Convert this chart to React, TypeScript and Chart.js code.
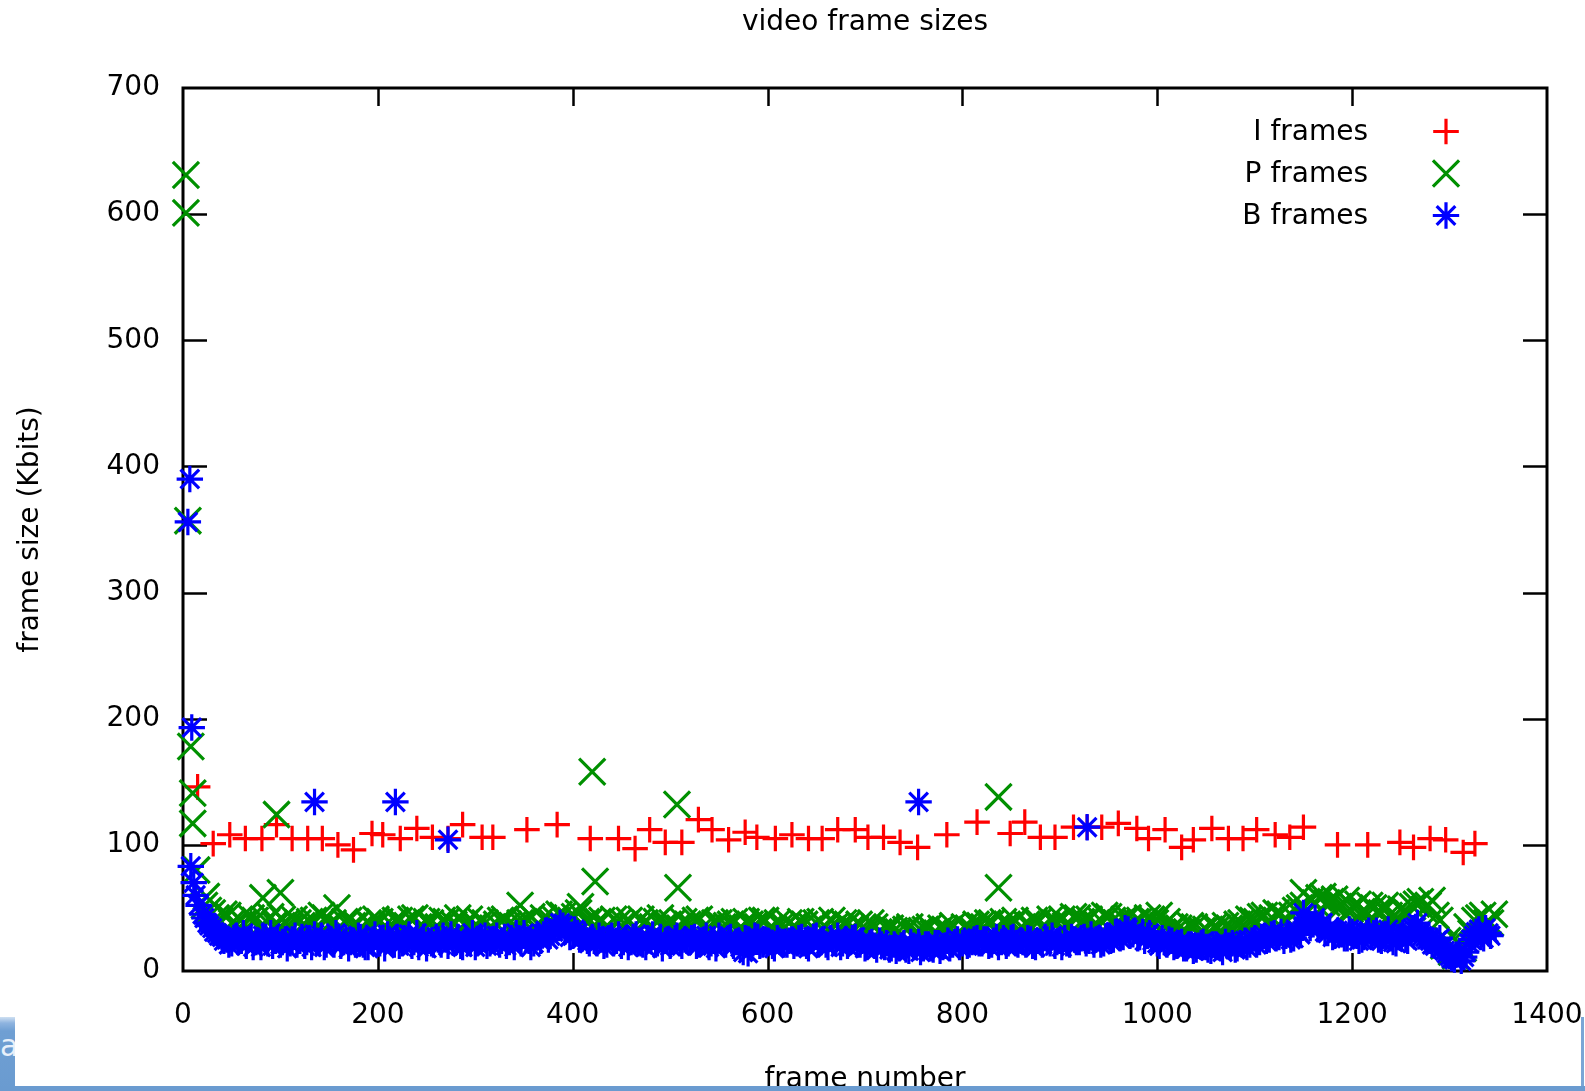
import React, { useEffect, useRef } from 'react';
import { Chart, registerables } from 'chart.js';

Chart.register(...registerables);

const FONT = '"DejaVu Sans", "Liberation Sans", Arial, sans-serif';
const FS = 28;

const chartTitle = 'video frame sizes';
const xAxisTitle = 'frame number';
const yAxisTitle = 'frame size (Kbits)';
const seriesNames = ['I frames', 'P frames', 'B frames'];
const seriesColors = ['#ff0000', '#009000', '#0000ff'];

const xMin = 0;
const xMax = 1400;
const xStep = 200;
const yMin = 0;
const yMax = 700;
const yStep = 100;

// I frames: frame number / size (Kbits)
const iFrameX = [15, 31, 48, 64, 81, 96, 112, 128, 143, 159, 175, 194, 205, 223, 240, 256, 272, 287, 307, 318,
  353, 384, 418, 447, 464, 479, 495, 512, 529, 543, 560, 577, 589, 608, 625, 642, 656, 672, 690, 703,
  719, 736, 754, 784, 815, 849, 864, 880, 895, 914, 928, 943, 960, 979, 991, 1008, 1025, 1037, 1056, 1073, 1088,
  1102, 1121, 1136, 1150, 1185, 1216, 1249, 1263, 1280, 1296, 1314, 1326];
const iFrameY = [146, 101, 108, 105, 105, 116, 105, 105, 105, 100, 96, 109, 108, 105, 113, 106, 105, 116, 106, 106,
  112, 116, 105, 105, 97, 112, 102, 102, 120, 112, 104, 110, 106, 105, 108, 105, 105, 112, 112, 106,
  106, 102, 98, 108, 118, 109, 118, 106, 106, 114, 114, 114, 117, 113, 105, 112, 98, 104, 113, 105, 105,
  112, 108, 106, 114, 100, 100, 102, 98, 105, 104, 94, 101];

// P frames: regular runs (frame = start + i * step)
const pFrameStep = 8;
const pFrameStartA = 22;
const pFrameYA = [
  52, 46, 40, 44, 36, 38, 42, 34, 39, 37, 41, 35, 38, 36, 40, 44, 37, 33, 39, 36, 34, 38, 41, 35, 37,
  40, 36, 42, 34, 38, 35, 39, 37, 33, 41, 36, 38, 34, 40, 37, 35, 39, 43, 36, 38, 41, 44, 40, 46, 39,
  36, 40, 34, 38, 37, 35, 41, 33, 39, 36, 38, 34, 37, 40, 35, 33, 38, 36, 39, 34, 37, 35, 40, 33, 36,
  38, 34, 37, 35, 39, 33, 36, 38, 34, 37, 32, 35, 30, 34, 31, 33, 29, 32, 35, 30, 33, 36, 31, 34, 37,
  35, 38, 33, 37, 40, 34, 36, 39, 35, 38, 41, 37, 42, 39, 36, 40, 43, 38, 41, 37, 40, 42, 38, 36, 33,
  34, 31, 35, 32, 30, 34, 36, 33, 38, 41, 39, 44, 42, 45, 40, 48, 52, 56, 58, 54, 57, 52, 49, 53, 47,
  50, 46, 44, 42, 48, 51, 55, 52, 44, 20, 15, 22, 35, 40, 44, 38,
];
const pFrameStartB = 26;
const pFrameYB = [
  48, 42, 45, 38, 41, 35, 40, 37, 43, 34, 38, 41, 36, 39, 33, 42, 38, 35, 40, 37, 32, 36, 39, 34, 40,
  37, 41, 35, 39, 33, 40, 36, 42, 38, 35, 39, 34, 37, 41, 36, 38, 40, 35, 42, 39, 45, 41, 43, 37, 40,
  39, 35, 41, 36, 40, 33, 38, 35, 42, 37, 34, 39, 36, 41, 34, 38, 35, 37, 33, 39, 36, 40, 34, 38, 35,
  35, 39, 33, 38, 36, 40, 34, 37, 33, 35, 38, 31, 34, 32, 29, 35, 31, 33, 30, 34, 32, 29, 35, 33, 36,
  38, 34, 39, 36, 33, 37, 40, 35, 41, 38, 36, 43, 39, 41, 37, 44, 40, 38, 42, 39, 36, 41, 44, 39, 35,
  32, 36, 29, 33, 35, 31, 34, 37, 35, 40, 43, 38, 46, 41, 44, 50, 47, 54, 59, 55, 51, 56, 50, 47, 52,
  47, 52, 43, 49, 45, 53, 49, 56, 40, 24, 12, 18, 30, 42, 38, 45,
];
// P frames: individual large frames
const pExtraX = [3, 3, 5, 8, 10, 10, 14, 24, 82, 96, 100, 158, 346, 408, 420, 423, 507, 508, 837, 837, 1150];
const pExtraY = [631, 601, 357, 178, 141, 117, 80, 59, 58, 124, 62, 50, 52, 51, 158, 71, 132, 66, 138, 66, 62];

// B frames: regular runs (frame = start + i * step)
const bFrameStep = 5;
const bFrameStartA = 20;
const bFrameYA = [
  45, 38, 34, 30, 27, 25, 22, 28, 24, 20, 26, 23, 19, 27, 30, 24, 21, 25, 22, 28,
  24, 20, 26, 29, 22, 19, 25, 21, 27, 23, 18, 24, 28, 21, 19, 25, 22, 26, 29, 23,
  27, 22, 25, 20, 30, 24, 18, 22, 27, 21, 25, 29, 23, 20, 26, 22, 19, 24, 28, 22,
  25, 21, 27, 23, 19, 26, 30, 24, 22, 27, 29, 25, 31, 34, 36, 33, 28, 30, 26, 24,
  27, 22, 25, 21, 28, 24, 20, 26, 23, 29, 22, 19, 25, 21, 27, 24, 20, 26, 22, 25,
  23, 27, 21, 25, 19, 24, 28, 22, 26, 20, 23, 15, 25, 22, 27, 21, 24, 20, 26, 23,
  21, 25, 22, 27, 20, 24, 28, 23, 21, 26, 22, 19, 25, 23, 27, 21, 18, 22, 20, 24,
  19, 17, 21, 18, 22, 16, 20, 23, 18, 21, 17, 22, 19, 24, 21, 25, 22, 20, 23, 26,
  22, 25, 21, 27, 23, 20, 26, 22, 24, 21, 25, 19, 23, 27, 22, 20, 24, 26, 21, 25,
  23, 27, 24, 21, 26, 22, 28, 25, 30, 27, 33, 29, 26, 31, 28, 24, 22, 26, 21, 24,
  20, 23, 18, 21, 17, 22, 19, 16, 21, 18, 23, 20, 17, 22, 24, 21, 26, 23, 28, 25,
  30, 27, 24, 29, 26, 31, 35, 40, 37, 33, 38, 30, 27, 32, 29, 26, 31, 28, 25, 30,
  27, 32, 24, 29, 26, 22, 28, 25, 31, 35, 30, 27, 24, 20, 26, 16, 12, 9, 14, 11,
  22, 28, 33, 26, 30,
];
const bFrameStartB = 22;
const bFrameYB = [
  42, 36, 31, 28, 24, 21, 26, 23, 30, 25, 19, 24, 28, 22, 20, 26, 23, 18, 25, 21,
  27, 23, 19, 24, 28, 21, 25, 30, 20, 26, 23, 21, 27, 19, 24, 29, 22, 18, 25, 21,
  20, 26, 29, 23, 19, 27, 24, 21, 25, 28, 20, 23, 27, 19, 24, 30, 22, 26, 20, 25,
  28, 24, 20, 26, 30, 22, 25, 19, 27, 24, 32, 28, 35, 38, 31, 27, 33, 25, 29, 22,
  24, 28, 20, 26, 22, 29, 23, 19, 27, 24, 21, 26, 29, 22, 18, 25, 23, 28, 20, 24,
  26, 20, 24, 28, 22, 18, 25, 21, 27, 23, 19, 26, 22, 28, 20, 25, 23, 18, 24, 21,
  24, 20, 26, 22, 18, 27, 21, 25, 19, 23, 28, 22, 20, 26, 21, 24, 19, 23, 17, 21,
  22, 18, 16, 20, 17, 23, 19, 15, 21, 18, 22, 16, 20, 18, 23, 19, 24, 21, 25, 22,
  25, 20, 24, 19, 26, 22, 27, 21, 23, 26, 20, 24, 21, 25, 28, 23, 19, 22, 27, 23,
  26, 22, 29, 25, 21, 27, 24, 31, 26, 34, 28, 32, 27, 24, 30, 26, 20, 23, 25, 19,
  22, 18, 21, 16, 20, 23, 17, 21, 19, 15, 20, 22, 18, 21, 19, 24, 21, 27, 24, 29,
  26, 31, 28, 25, 33, 29, 38, 34, 42, 36, 31, 35, 28, 30, 26, 33, 29, 24, 27, 32,
  30, 25, 28, 33, 23, 27, 30, 24, 34, 38, 28, 25, 21, 24, 18, 14, 10, 13, 8, 15,
  25, 31, 27, 34, 28,
];
// B frames: individual large frames
const bExtraX = [5, 7, 9, 8, 11, 13, 16, 135, 218, 272, 580, 755, 928, 1150];
const bExtraY = [356, 390, 193, 83, 70, 60, 52, 134, 134, 104, 14, 134, 114, 46];

function pairs(xs: number[], ys: number[]) {
  return ys.map((y, i) => ({ x: xs[i], y }));
}
function run(start: number, step: number, ys: number[]) {
  return ys.map((y, i) => ({ x: start + i * step, y }));
}

const markerStyles = ['cross', 'crossRot', 'star'];
const markerRadius = [12.8, 18.5, 13.2];
const markerWidth = 3.2;

function drawMarker(ctx: CanvasRenderingContext2D, style: string, x: number, y: number, r: number, color: string) {
  ctx.save();
  ctx.strokeStyle = color;
  ctx.lineWidth = markerWidth;
  ctx.beginPath();
  const plus = () => {
    ctx.moveTo(x - r, y); ctx.lineTo(x + r, y);
    ctx.moveTo(x, y - r); ctx.lineTo(x, y + r);
  };
  const ex = () => {
    const d = r * Math.SQRT1_2;
    ctx.moveTo(x - d, y - d); ctx.lineTo(x + d, y + d);
    ctx.moveTo(x + d, y - d); ctx.lineTo(x - d, y + d);
  };
  if (style === 'cross') plus();
  else if (style === 'crossRot') ex();
  else { plus(); ex(); }
  ctx.stroke();
  ctx.restore();
}

const framePlugin = {
  id: 'gnuFrame',
  beforeDatasetsDraw(chart: any) {
    const { ctx, chartArea } = chart;
    const { left, right, top, bottom } = chartArea;
    const xs = chart.scales.x;
    const ys = chart.scales.y;
    ctx.save();
    ctx.strokeStyle = '#000';
    ctx.lineWidth = 2.5;
    ctx.beginPath();
    for (let v = xMin + xStep; v < xMax; v += xStep) {
      const px = Math.round(xs.getPixelForValue(v)) + 0.5;
      ctx.moveTo(px, bottom); ctx.lineTo(px, bottom - 18);
      ctx.moveTo(px, top); ctx.lineTo(px, top + 18);
    }
    for (let v = yMin + yStep; v < yMax; v += yStep) {
      const py = Math.round(ys.getPixelForValue(v)) + 0.5;
      ctx.moveTo(left, py); ctx.lineTo(left + 24, py);
      ctx.moveTo(right, py); ctx.lineTo(right - 24, py);
    }
    ctx.stroke();
    ctx.lineWidth = 3;
    ctx.strokeRect(left, top, right - left, bottom - top);
    ctx.restore();
  },
};

const legendPlugin = {
  id: 'gnuLegend',
  afterDatasetsDraw(chart: any) {
    const { ctx, chartArea } = chart;
    const rows = [43.5, 85.5, 127.5];
    ctx.save();
    ctx.font = `${FS}px ${FONT}`;
    ctx.fillStyle = '#000';
    ctx.textAlign = 'right';
    ctx.textBaseline = 'middle';
    seriesNames.forEach((name, i) => {
      const y = chartArea.top + rows[i];
      ctx.fillText(name, chartArea.right - 179, y + 1);
      drawMarker(ctx, markerStyles[i], chartArea.right - 101, y, markerRadius[i], seriesColors[i]);
    });
    ctx.restore();
  },
};

export default function App() {
  const canvasRef = useRef<HTMLCanvasElement | null>(null);

  useEffect(() => {
    const canvas = canvasRef.current;
    if (!canvas) return;
    const seriesData = [
      pairs(iFrameX, iFrameY),
      [...pairs(pExtraX, pExtraY), ...run(pFrameStartA, pFrameStep, pFrameYA), ...run(pFrameStartB, pFrameStep, pFrameYB)],
      [...pairs(bExtraX, bExtraY), ...run(bFrameStartA, bFrameStep, bFrameYA), ...run(bFrameStartB, bFrameStep, bFrameYB)],
    ];
    const tickFont = { family: FONT, size: FS, lineHeight: 1 };
    const chart = new Chart(canvas, {
      type: 'scatter',
      data: {
        datasets: seriesData.map((d, i) => ({
          label: seriesNames[i],
          data: d,
          pointStyle: markerStyles[i] as any,
          pointRadius: markerRadius[i],
          pointHoverRadius: markerRadius[i],
          pointBorderWidth: markerWidth,
          borderColor: seriesColors[i],
          backgroundColor: seriesColors[i],
          showLine: false,
          clip: false as any,
          order: 3 - i,
        })),
      },
      options: {
        animation: false,
        responsive: false,
        devicePixelRatio: 1,
        events: [],
        layout: { padding: { left: 0, right: 38, top: 0, bottom: 0 } },
        plugins: {
          legend: { display: false },
          tooltip: { enabled: false },
          title: {
            display: true,
            fullSize: false,
            text: chartTitle,
            color: '#000',
            font: { family: FONT, size: FS, weight: 'normal', lineHeight: 1 },
            padding: { top: 9, bottom: 51 },
          },
        },
        scales: {
          x: {
            type: 'linear',
            min: xMin,
            max: xMax,
            grid: { display: false, drawTicks: false },
            border: { display: false },
            ticks: {
              stepSize: xStep,
              color: '#000',
              padding: 31,
              font: tickFont,
              maxRotation: 0,
              callback: (v: any) => String(v),
            },
            title: {
              display: true,
              text: xAxisTitle,
              color: '#000',
              font: tickFont,
              padding: { top: 0, bottom: -3 },
            },
            afterFit: (s: any) => { s.height = 120; s.paddingLeft = 0; s.paddingRight = 0; },
          },
          y: {
            type: 'linear',
            min: yMin,
            max: yMax,
            grid: { display: false, drawTicks: false },
            border: { display: false },
            ticks: {
              stepSize: yStep,
              color: '#000',
              padding: 23,
              font: tickFont,
              callback: (v: any) => String(v),
            },
            title: {
              display: true,
              text: yAxisTitle,
              color: '#000',
              font: tickFont,
              padding: { top: 16.5, bottom: 0 },
            },
            afterFit: (s: any) => { s.width = 183; },
          },
        },
      },
      plugins: [framePlugin, legendPlugin],
    });
    return () => chart.destroy();
  }, []);

  return (
    <div style={{ position: 'absolute', left: 0, top: 0, width: 1585, height: 1091, background: '#fff', overflow: 'hidden' }}>
      <canvas ref={canvasRef} width={1585} height={1091} style={{ display: 'block', width: 1585, height: 1091 }} />
      <div style={{ position: 'absolute', left: 0, top: 1017, width: 15, height: 74, background: 'linear-gradient(#cfe0f2 0px, #8fb4df 6px, #6f9fd3 14px, #6a9bd0 100%)', overflow: 'hidden' }}>
        <span style={{ position: 'absolute', left: 0, top: 14, color: '#e8f0fa', font: `30px ${FONT}`, lineHeight: '30px' }}>a</span>
      </div>
      <div style={{ position: 'absolute', left: 1581, top: 1017, width: 3, height: 74, background: '#7aa6d6' }} />
      <div style={{ position: 'absolute', left: 0, top: 1086, width: 1585, height: 5, background: '#6a9bd0' }} />
    </div>
  );
}
